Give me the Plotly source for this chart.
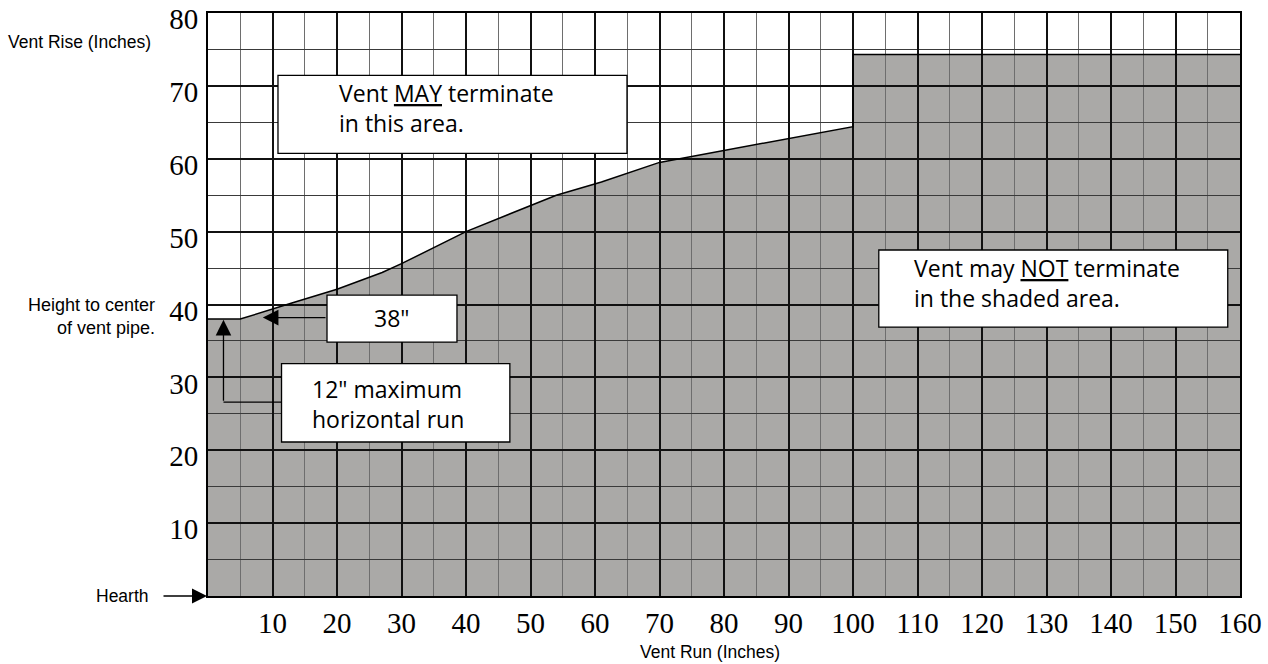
import plotly.graph_objects as go

# ---------------- data ----------------
x_ticks = [10, 20, 30, 40, 50, 60, 70, 80, 90, 100, 110, 120, 130, 140, 150, 160]
y_ticks = [10, 20, 30, 40, 50, 60, 70, 80]
x_tick_labels = [str(v) for v in x_ticks]
y_tick_labels = [str(v) for v in y_ticks]

# boundary of the "may NOT terminate" shaded area (vent run, vent rise)
boundary_x = [0, 5, 13, 20, 27, 30, 40, 50, 54, 61, 70, 100, 100, 160]
boundary_y = [38, 38, 40.2, 42.1, 44.4, 45.6, 50, 53.6, 55, 56.8, 59.5, 64.4, 74.3, 74.3]

max_rise_start = 38          # 38" height to center of vent pipe
max_horizontal_run = 12      # 12" maximum horizontal run

# ---------------- styling ----------------
SHADE = "#aaa9a7"
SANS = "Open Sans"
NARROW = "Liberation Sans"
SERIF = "Liberation Serif, Times New Roman, serif"

fig = go.Figure()

# shaded area as a below-grid shape built from the boundary arrays
path = "M 0,0 " + " ".join(f"L {x},{y}" for x, y in zip(boundary_x, boundary_y)) + f" L {boundary_x[-1]},0 Z"
shapes = [dict(type="path", path=path, xref="x", yref="y", fillcolor=SHADE,
               line=dict(width=0), layer="below")]

fig.add_trace(go.Scatter(x=boundary_x, y=boundary_y, mode="lines",
                         line=dict(color="black", width=1.5),
                         hoverinfo="skip", showlegend=False))

# text boxes
boxes = [
    (10.85, 64.96, 71.44, 60.74),   # MAY
    (18.45, 38.6, 41.3, 34.85),     # 38"
    (11.4, 46.8, 31.9, 21.13),      # 12" max
    (104.0, 158.1, 47.48, 36.9),    # NOT
]
for x0, x1, y0, y1 in boxes:
    shapes.append(dict(type="rect", xref="x", yref="y", x0=x0, x1=x1, y0=y1, y1=y0,
                       fillcolor="white", line=dict(color="black", width=1.3), layer="above"))

# polyline part of the 12" arrow
shapes.append(dict(type="path", xref="x", yref="y",
                   path="M 11.4,26.6 L 2.4,26.6", line=dict(color="black", width=1.3),
                   layer="above"))

annotations = [
    dict(x=20.0, y=67.0, xref="x", yref="y", xanchor="left", yanchor="middle", align="left",
         text="Vent <u>MAY</u> terminate<br>in this area.", showarrow=False,
         font=dict(family=SANS, size=23, color="black")),
    dict(x=28.5, y=38.1, xref="x", yref="y", xanchor="center", yanchor="middle",
         text='38"', showarrow=False, font=dict(family=SANS, size=23, color="black")),
    dict(x=15.8, y=26.3, xref="x", yref="y", xanchor="left", yanchor="middle", align="left",
         text='12" maximum<br>horizontal run', showarrow=False,
         font=dict(family=SANS, size=23, color="black")),
    dict(x=109.1, y=43.0, xref="x", yref="y", xanchor="left", yanchor="middle", align="left",
         text="Vent may <u>NOT</u> terminate<br>in the shaded area.", showarrow=False,
         font=dict(family=SANS, size=23, color="black")),
    # arrows
    dict(x=8.5, y=max_rise_start + 0.2, ax=18.45, ay=max_rise_start + 0.2, xref="x", yref="y",
         axref="x", ayref="y", showarrow=True, arrowhead=2, arrowsize=2.4, arrowwidth=1.3,
         arrowcolor="black", text="", standoff=0, startstandoff=0),
    dict(x=2.4, y=max_rise_start - 0.1, ax=2.4, ay=26.6, xref="x", yref="y",
         axref="x", ayref="y", showarrow=True, arrowhead=2, arrowsize=2.4, arrowwidth=1.3,
         arrowcolor="black", text="", standoff=0, startstandoff=0),
    dict(x=0, y=0, xref="x", yref="y", ax=-46, ay=0, showarrow=True, arrowhead=2,
         arrowsize=2.0, arrowwidth=1.5, arrowcolor="black", text="", standoff=1),
    # side labels
    dict(x=0, y=76.0, xref="x", yref="y", xshift=-55, xanchor="right", yanchor="middle",
         text="Vent Rise (Inches)", showarrow=False, font=dict(family=NARROW, size=17.5, color="black")),
    dict(x=0, y=38.3, xref="x", yref="y", xshift=-51, xanchor="right", yanchor="middle",
         align="right", text="Height to center<br>of vent pipe.", showarrow=False,
         font=dict(family=NARROW, size=18, color="black")),
    dict(x=0, y=0, xref="x", yref="y", xshift=-57, xanchor="right", yanchor="middle",
         text="Hearth", showarrow=False, font=dict(family=NARROW, size=17.5, color="black")),
    dict(x=77.8, y=-0.096, xref="x", yref="paper", xanchor="center", yanchor="middle",
         text="Vent Run (Inches)", showarrow=False, font=dict(family=NARROW, size=17.5, color="black")),
]

axis_common = dict(showline=True, mirror=True, linecolor="black", linewidth=2,
                   ticks="", zeroline=False, showgrid=True, gridcolor="#111111", gridwidth=2,
                   tickfont=dict(family=SERIF, size=29, color="black"), fixedrange=True,
                   ticklabeloverflow="allow", automargin=False)

fig.update_layout(
    width=1268, height=664,
    margin=dict(l=208, r=28, t=13, b=68),
    paper_bgcolor="white", plot_bgcolor="white",
    showlegend=False,
    shapes=shapes, annotations=annotations,
    xaxis=dict(range=[0, 160], tickmode="array", tickvals=x_ticks, ticktext=x_tick_labels,
               ticklabelstandoff=0,
               minor=dict(tickmode="linear", tick0=0, dtick=5, showgrid=True,
                          gridcolor="#6e6e6e", gridwidth=1.2),
               **axis_common),
    yaxis=dict(range=[0, 80], tickmode="array", tickvals=y_ticks, ticktext=y_tick_labels,
               ticklabelstandoff=2, ticklabelshift=6,
               minor=dict(tickmode="linear", tick0=0, dtick=5, showgrid=True,
                          gridcolor="#3a3a3a", gridwidth=1.2),
               **axis_common),
)

fig.write_html("out.html", config={"displayModeBar": False},
               post_script="document.body.style.margin='0';document.body.style.overflow='hidden';")
